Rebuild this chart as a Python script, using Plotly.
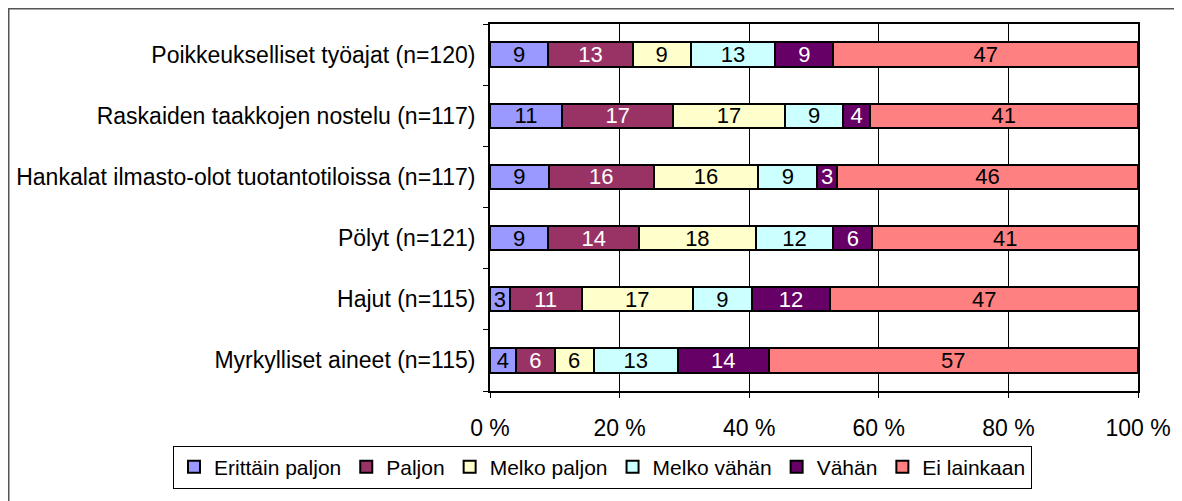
import plotly.graph_objects as go

categories = [
    "Poikkeukselliset työajat (n=120)",
    "Raskaiden taakkojen nostelu (n=117)",
    "Hankalat ilmasto-olot tuotantotiloissa (n=117)",
    "Pölyt (n=121)",
    "Hajut (n=115)",
    "Myrkylliset aineet (n=115)",
]

erittain_paljon = [9, 11, 9, 9, 3, 4]
paljon = [13, 17, 16, 14, 11, 6]
melko_paljon = [9, 17, 16, 18, 17, 6]
melko_vahan = [13, 9, 9, 12, 9, 13]
vahan = [9, 4, 3, 6, 12, 14]
ei_lainkaan = [47, 41, 46, 41, 47, 57]

x_ticks = [0, 20, 40, 60, 80, 100]

series = [
    ("Erittäin paljon", erittain_paljon, "#9999FF", "black"),
    ("Paljon", paljon, "#993366", "white"),
    ("Melko paljon", melko_paljon, "#FFFFCC", "black"),
    ("Melko vähän", melko_vahan, "#CCFFFF", "black"),
    ("Vähän", vahan, "#660066", "white"),
    ("Ei lainkaan", ei_lainkaan, "#FF8080", "black"),
]

font = "Liberation Sans, Arial, sans-serif"
fsize = 23

# the page body adds an 8px offset, so the figure is a bit smaller
W, H = 1174, 493
L, T = 482, 16
PW, PH = 648, 369

fig = go.Figure()
for name, vals, color, txt in series:
    fig.add_trace(
        go.Bar(
            y=categories,
            x=vals,
            name=name,
            orientation="h",
            marker=dict(color=color, line=dict(color="black", width=2)),
            text=[str(v) for v in vals],
            textposition="inside",
            insidetextanchor="middle",
            textangle=0,
            textfont=dict(color=txt, size=22, family=font),
            hoverinfo="skip",
        )
    )

# outer chart frame (pixel positions inside the figure)
fx0, fx1, fy0, fy1 = 0.75, 1171.5, 0.75, 520
fig.add_shape(
    type="rect", xref="paper", yref="paper",
    x0=(fx0 - L) / PW, x1=(fx1 - L) / PW,
    y0=(T + PH - fy1) / PH, y1=(T + PH - fy0) / PH,
    line=dict(color="#555555", width=1.5), layer="below",
)

fig.update_layout(
    width=W,
    height=H,
    margin=dict(l=L, r=W - L - PW, t=T, b=H - T - PH),
    barmode="stack",
    barnorm="percent",
    bargap=0.6,
    plot_bgcolor="white",
    paper_bgcolor="white",
    font=dict(family=font, size=fsize, color="black"),
    uniformtext=dict(minsize=22, mode="show"),
    showlegend=True,
    legend=dict(
        orientation="h",
        x=(165 - L) / PW, xanchor="left",
        y=(T + PH - 440) / PH, yanchor="top",
        bordercolor="black", borderwidth=1,
        font=dict(size=21, family=font),
        traceorder="normal",
        itemwidth=30,
        tracegroupgap=0,
    ),
    xaxis=dict(
        range=[0, 100],
        tickvals=x_ticks,
        ticktext=[f"{t} %" for t in x_ticks],
        ticks="outside", ticklen=5, tickcolor="black",
        showgrid=True, gridcolor="black", gridwidth=1,
        showline=True, linecolor="black", linewidth=2, mirror=True,
        zeroline=False,
        ticklabelstandoff=10,
        automargin=False,
    ),
    yaxis=dict(
        categoryorder="array",
        categoryarray=categories[::-1],
        ticks="outside", ticklen=5, tickcolor="black",
        tickson="boundaries",
        showline=True, linecolor="black", linewidth=2, mirror=True,
        showgrid=False,
        ticklabelstandoff=8,
        automargin=False,
    ),
)

fig.write_html("out.html")
